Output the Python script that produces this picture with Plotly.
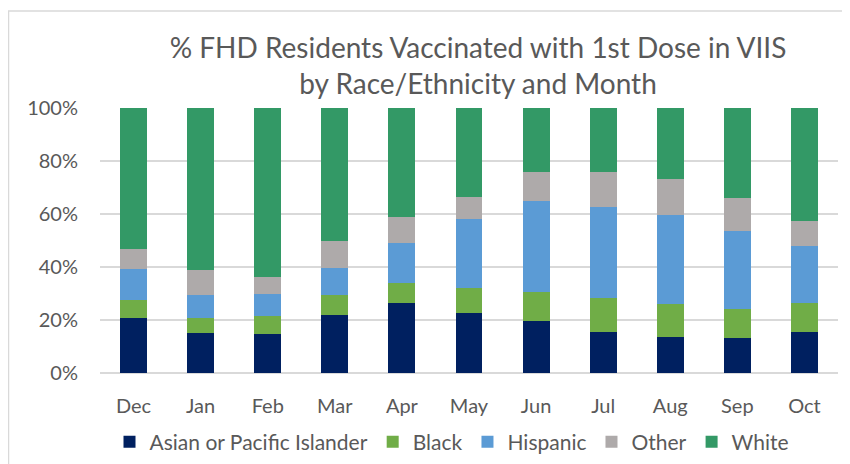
import plotly.graph_objects as go

months = ["Dec", "Jan", "Feb", "Mar", "Apr", "May", "Jun", "Jul", "Aug", "Sep", "Oct"]
asian_pi = [20.8, 15.2, 14.9, 21.9, 26.3, 22.8, 19.6, 15.6, 13.6, 13.1, 15.6]
black = [6.6, 5.6, 6.5, 7.7, 7.8, 9.4, 11.1, 12.6, 12.4, 11.2, 11.0]
hispanic = [12.0, 8.8, 8.6, 10.2, 15.0, 26.1, 34.2, 34.6, 33.8, 29.4, 21.5]
other = [7.3, 9.3, 6.1, 10.2, 9.9, 8.0, 10.8, 12.9, 13.4, 12.5, 9.3]
white = [53.3, 61.1, 63.9, 50.0, 41.0, 33.7, 24.3, 24.3, 26.8, 33.8, 42.6]

series = [
    ("Asian or Pacific Islander", asian_pi, "#002060"),
    ("Black", black, "#70AD47"),
    ("Hispanic", hispanic, "#5B9BD5"),
    ("Other", other, "#AEAAAA"),
    ("White", white, "#339966"),
]

FONT = "Lato"
GRAY = "#595959"

fig = go.Figure()
for name, vals, col in series:
    fig.add_trace(go.Bar(
        x=months, y=[v / 100 for v in vals], name=name,
        marker=dict(color=col, line=dict(width=0)),
    ))

# page is offset by the 8px body margin
OFF = 8
W, H = 850 - OFF, 464 - OFF
L, R, T, B = 100 - OFF, 12, 108 - OFF, 91
ph = H - T - B
pw = W - L - R

fig.update_layout(
    width=W, height=H,
    barmode="stack", bargap=0.6,
    paper_bgcolor="white", plot_bgcolor="white",
    margin=dict(l=L, r=R, t=T, b=B, autoexpand=False),
    font=dict(family=FONT, color=GRAY, size=20),
    title=dict(
        text="% FHD Residents Vaccinated with 1st Dose in VIIS<br>by Race/Ethnicity and Month",
        x=(478 - OFF) / W, xanchor="center", xref="container",
        y=1 - (58 - OFF) / H, yanchor="middle", yref="container",
        font=dict(family=FONT, size=28, color=GRAY),
    ),
    legend=dict(
        orientation="h", x=(452 - 100) / pw, xanchor="center",
        y=(ph - (442 - 108)) / ph, yanchor="middle",
        font=dict(family=FONT, size=21, color=GRAY),
        traceorder="normal", itemwidth=30,
        bgcolor="rgba(0,0,0,0)",
    ),
    xaxis=dict(
        showgrid=False, showline=False, ticks="",
        ticklabelstandoff=19,
        tickfont=dict(family=FONT, size=20, color=GRAY),
    ),
    yaxis=dict(
        range=[0, 1], tickvals=[0, 0.2, 0.4, 0.6, 0.8, 1.0],
        tickformat=".0%", showgrid=True, gridcolor="#D9D9D9", gridwidth=1.5,
        zeroline=True, zerolinecolor="#D9D9D9", zerolinewidth=1.5,
        showline=False, ticks="", ticklabelstandoff=21,
        tickfont=dict(family=FONT, size=20, color=GRAY),
    ),
    showlegend=True,
)

fig.add_shape(
    type="rect", xref="paper", yref="paper",
    x0=(0.5 - L) / pw, x1=(860 - L) / pw,
    y0=(ph - (480 - T)) / ph, y1=(ph - (3 - T)) / ph,
    line=dict(color="#D9D9D9", width=1.5), fillcolor="rgba(0,0,0,0)",
    layer="below",
)

fig.write_html("out.html")
